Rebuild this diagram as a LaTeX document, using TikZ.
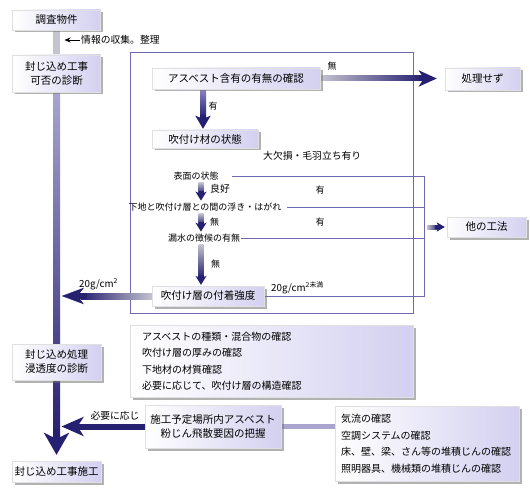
\documentclass[tikz,border=0pt]{standalone}
\usepackage{fontspec}
\setmainfont{Noto Sans CJK JP}
\usepackage{tikz}
\usetikzlibrary{arrows.meta, positioning, calc, shadows, backgrounds}
\usepackage{xcolor}
\definecolor{fmNavy}{HTML}{262070}
\definecolor{fmLine}{HTML}{6E69B0}
\definecolor{fmLav}{HTML}{D3D0F0}
\definecolor{fmGray}{HTML}{C4C3D0}
\definecolor{fmBar}{HTML}{A9A5CF}
\definecolor{fmMid}{HTML}{8A84C2}
\newcommand{\boxfont}{\fontsize{10.5}{14}\selectfont}
\newcommand{\listfont}{\fontsize{10}{16.5}\selectfont}
\newcommand{\lblfont}{\fontsize{9.8}{12}\selectfont}
\newcommand{\smlfont}{\fontsize{9}{11}\selectfont}

\begin{document}
\begin{tikzpicture}[x=1pt, y=1pt,
    box/.style={draw=black!12, line width=0.3pt, left color=white, right color=fmLav,
        drop shadow={shadow xshift=2.5pt, shadow yshift=-2.5pt, fill=black!55, opacity=0.55},
        inner sep=2pt, align=center, font=\boxfont},
    lbl/.style={inner sep=1pt, font=\lblfont},
    sml/.style={inner sep=1pt, font=\smlfont},
    rim/.style={draw=fmLine, line width=0.7pt}]
    \useasboundingbox (0,0) rectangle (530,-492);

    % Main column
    \node[box, minimum width=88pt, minimum height=20pt] (survey) at (56.5,-20) {調査物件};
    \node[box, minimum width=88pt, minimum height=37pt] (diag1) at (56.5,-73.5) {封じ込め工事\\可否の診断};
    \node[box, minimum width=89pt, minimum height=36pt] (diag2) at (56.5,-362) {封じ込め処理\\浸透度の診断};
    \node[box, minimum width=89pt, minimum height=21pt] (final) at (56.5,-471.5) {封じ込め工事施工};

    % Inner steps
    \node[box, minimum width=168pt, minimum height=21pt] (check) at (236,-78.5) {アスベスト含有の有無の確認};
    \node[box, minimum width=75pt, minimum height=22pt] (noproc) at (482.5,-79) {処理せず};
    \node[box, minimum width=106pt, minimum height=18pt] (state) at (205,-139) {吹付け材の状態};
    \node[sml] (surf) at (196,-176) {表面の状態};
    \node[sml] (gap) at (205,-207) {下地と吹付け層との間の浮き・はがれ};
    \node[sml] (leak) at (204,-238) {漏水の徴候の有無};
    \node[box, minimum width=112pt, minimum height=20pt] (strength) at (208,-296) {吹付け層の付着強度};
    \node[box, minimum width=79pt, minimum height=20pt] (other) at (486.5,-227) {他の工法};

    % Lists
    \node[box, text width=259pt, inner xsep=12pt, minimum height=72pt, align=left, font=\listfont] (checks) at (271.5,-361)
        {アスベストの種類・混合物の確認\\吹付け層の厚みの確認\\下地材の材質確認\\必要に応じて、吹付け層の構造確認};
    \node[box, minimum width=136pt, minimum height=43pt] (scatter) at (213,-426.5) {施工予定場所内アスベスト\\粉じん飛散要因の把握};
    \node[box, text width=172pt, inner xsep=6pt, minimum height=75pt, align=left, font=\listfont] (airflow) at (427,-443.5)
        {気流の確認\\空調システムの確認\\床、壁、梁、さん等の堆積じんの確認\\照明器具、機械類の堆積じんの確認};

    % Labels
    \node[lbl, anchor=west] (info) at (80,-40) {情報の収集。整理};
    \node[sml] (lno1) at (332,-66) {無};
    \node[sml] (lyes1) at (213,-106) {有};
    \node[lbl, anchor=west] (damage) at (262,-156) {大欠損・毛羽立ち有り};
    \node[lbl, anchor=west] (good) at (209,-189) {良好};
    \node[sml, anchor=west] (lno2) at (209,-222) {無};
    \node[sml, anchor=west] (lno3) at (210,-264) {無};
    \node[sml] (lyes2) at (320,-190) {有};
    \node[sml] (lyes3) at (320,-222) {有};
    \node[lbl, anchor=west] (under) at (270,-288) {20g/cm\textsuperscript{2未満}};
    \node[lbl, anchor=west] (over) at (78,-284) {20g/cm\textsuperscript{2}};
    \node[lbl] (need) at (115,-416) {必要に応じ};

    \coordinate (spine) at (56.5,0);
    \coordinate (dn) at (201,0);
    \coordinate (dn1) at (203,0);
    \coordinate (brk) at (424,0);

    \begin{scope}[on background layer]
        % Frame and bracket
        \draw[rim] (130,-52) rectangle (413,-313);
        \draw[rim] ([xshift=12pt]surf.east) -- (surf.east -| brk) -- (strength.east -| brk) -- (strength.east);
        \draw[rim] ([xshift=4pt]gap.east) -- (gap.east -| brk);
        \draw[rim] (leak.east) -- (leak.east -| brk);

        % Spine
        \draw[line width=7pt, fmGray] (survey.south) -- (diag1.north);
        \shade[top color=fmBar, bottom color=fmNavy] ($(diag1.south)+(-3.5,0)$) rectangle ($(final.north)+(3.5,24)$);
        \draw[-{Stealth[length=22pt, width=25pt, inset=6pt]}, line width=7pt, fmNavy]
            ($(final.north)+(0,32)$) -- ($(final.north)+(0,6)$);
        \draw[-{Stealth[length=6pt, width=5pt]}, line width=0.9pt] (info.west) -- ($(info.west -| spine)+(8,0)$);

        % No asbestos
        \shade[left color=fmGray, right color=fmNavy] ($(check.east)+(0,2.5)$) rectangle ($(check.east -| noproc.west)+(-22,-2.5)$);
        \draw[-{Stealth[length=18pt, width=16pt, inset=5pt]}, line width=5pt, fmNavy]
            ($(check.east -| noproc.west)+(-26,0)$) -- ($(check.east -| noproc.west)+(-8,0)$);

        % Down arrows
        \shade[top color=fmMid, bottom color=fmNavy] ($(check.south -| dn1)+(-3,0)$) rectangle ($(state.north -| dn1)+(3,12)$);
        \draw[-{Stealth[length=13pt, width=15pt, inset=3pt]}, line width=6pt, fmNavy]
            ($(state.north -| dn1)+(0,15)$) -- ($(state.north -| dn1)+(0,1)$);
        \foreach \a/\b in {surf/gap, gap/leak, leak/strength} {
            \shade[top color=fmGray, bottom color=fmNavy] ($(\a.south -| dn)+(-2.5,-1)$) rectangle ($(\b.north -| dn)+(2.5,8)$);
            \draw[-{Stealth[length=9pt, width=11pt, inset=2.5pt]}, line width=5pt, fmNavy]
                ($(\b.north -| dn)+(0,11)$) -- ($(\b.north -| dn)+(0,1)$);
        }

        % To other methods
        \shade[left color=fmGray, right color=fmNavy] ($(other.west -| brk)+(3,2)$) rectangle ($(other.west)+(-9,-2)$);
        \draw[-{Stealth[length=8pt, width=9pt, inset=2pt]}, line width=4pt, fmNavy]
            ($(other.west)+(-12,0)$) -- ($(other.west)+(-2,0)$);

        % Back to spine
        \shade[left color=fmNavy, right color=fmGray] ($(strength.west)+(0,3)$) rectangle ($(strength.west -| spine)+(24,-3)$);
        \draw[-{Stealth[length=22pt, width=16pt, inset=6pt]}, line width=6pt, fmNavy]
            ($(strength.west -| spine)+(30,0)$) -- ($(strength.west -| spine)+(5,0)$);
        \draw[-{Stealth[length=22pt, width=19pt, inset=6pt]}, line width=6pt, fmNavy]
            (scatter.west) -- ($(scatter.west -| spine)+(5,0)$);
        \draw[line width=5pt, fmBar] (scatter.east) -- (scatter.east -| airflow.west);
    \end{scope}
\end{tikzpicture}
\end{document}
